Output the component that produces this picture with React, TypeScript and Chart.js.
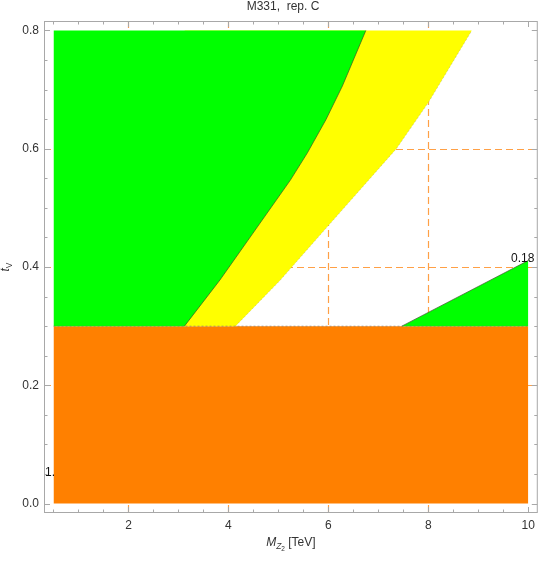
import React, { useEffect, useRef } from 'react';
import { Chart, registerables } from 'chart.js';
Chart.register(...registerables);

const TITLE = 'M331,  rep. C';
const xTickValues = [2, 4, 6, 8, 10];
const yTickValues = [0, 0.2, 0.4, 0.6, 0.8];
const gridX = [2, 4, 6, 8];
const gridY = [0.2, 0.4, 0.6];

// orange excluded band (top edge), filled down to 0
const orangeX = [0.5, 10];
const orangeY = [0.3, 0.3];
// green region: bounded below by this edge, above by 0.8
const greenEdgeX = [0.5, 3.12, 3.83, 5.24, 5.58, 5.95, 6.28, 6.75];
const greenEdgeY = [0.3, 0.3, 0.378, 0.547, 0.593, 0.649, 0.706, 0.8];
// yellow band outer edge, filled up to 0.8
const yellowEdgeX = [3.12, 4.14, 5.03, 6.0, 7.36, 8.0, 8.87];
const yellowEdgeY = [0.3, 0.3, 0.377, 0.47, 0.6, 0.678, 0.8];
// small green region lower right, filled down to 0.3
const triX = [7.47, 10];
const triY = [0.3, 0.411];

const contourText = ['0.18', '1.'];
const contourX = [9.89, 0.33];
const contourY = [0.414, 0.052];

const FONT = '"Liberation Sans", Arial, sans-serif';

const pts = (xs: number[], ys: number[]) => xs.map((v, i) => ({ x: v, y: ys[i] }));

const decor = {
  id: 'decor',
  beforeDatasetsDraw(chart: any) {
    const { ctx, chartArea: a, scales } = chart;
    const x = scales.x, y = scales.y;
    ctx.save();
    ctx.beginPath();
    ctx.rect(a.left, a.top, a.right - a.left, a.bottom - a.top);
    ctx.clip();
    ctx.strokeStyle = 'rgb(255,160,70)';
    ctx.lineWidth = 1.2;
    ctx.setLineDash([7, 4]);
    gridX.forEach((v) => {
      const px = Math.round(x.getPixelForValue(v)) + 0.5;
      ctx.beginPath(); ctx.moveTo(px, a.top); ctx.lineTo(px, a.bottom); ctx.stroke();
    });
    gridY.forEach((v) => {
      const py = Math.round(y.getPixelForValue(v)) + 0.5;
      ctx.beginPath(); ctx.moveTo(a.left, py); ctx.lineTo(a.right, py); ctx.stroke();
    });
    ctx.restore();
  },
  afterDatasetsDraw(chart: any) {
    const { ctx, chartArea: a, scales } = chart;
    const x = scales.x, y = scales.y;
    ctx.save();
    // contour labels
    ctx.fillStyle = '#111';
    ctx.font = `12px ${FONT}`;
    ctx.textBaseline = 'middle';
    contourText.forEach((t, i) => {
      ctx.textAlign = i === 0 ? 'center' : 'left';
      ctx.fillText(t, x.getPixelForValue(contourX[i]), y.getPixelForValue(contourY[i]));
    });
    // frame
    const L = a.left + 0.5, R = a.right - 0.5, T = a.top + 0.5, B = a.bottom - 0.5;
    ctx.strokeStyle = '#a8a8a8';
    ctx.lineWidth = 1;
    ctx.strokeRect(L, T, R - L, B - T);
    // ticks
    ctx.beginPath();
    for (let k = 1; k <= 20; k++) {
      const v = k * 0.5;
      const major = k % 4 === 0;
      const len = major ? 5.5 : 3;
      const px = Math.round(x.getPixelForValue(v)) + 0.5;
      ctx.moveTo(px, B); ctx.lineTo(px, B - len);
      ctx.moveTo(px, T); ctx.lineTo(px, T + len);
    }
    for (let k = 0; k <= 16; k++) {
      const v = k * 0.05;
      const major = k % 4 === 0;
      const len = major ? 5.5 : 3;
      const py = Math.round(y.getPixelForValue(v)) + 0.5;
      ctx.moveTo(L, py); ctx.lineTo(L + len, py);
      ctx.moveTo(R, py); ctx.lineTo(R - len, py);
    }
    ctx.stroke();

    // title
    ctx.fillStyle = '#333';
    ctx.textAlign = 'center';
    ctx.textBaseline = 'alphabetic';
    ctx.font = `12px ${FONT}`;
    ctx.fillText(TITLE, 283, 10);

    // x axis title: M_{Z_2} [TeV]
    const cx = (a.left + a.right) / 2;
    const base = 546;
    const parts = [
      { t: 'M', f: `italic 12px ${FONT}`, dy: 0 },
      { t: 'Z', f: `italic 8.5px ${FONT}`, dy: 3 },
      { t: '2', f: `6.5px ${FONT}`, dy: 5 },
      { t: ' [TeV]', f: `12px ${FONT}`, dy: 0 },
    ];
    let total = 0;
    parts.forEach((p) => { ctx.font = p.f; total += ctx.measureText(p.t).width; });
    let xx = cx - total / 2;
    ctx.textAlign = 'left';
    parts.forEach((p) => {
      ctx.font = p.f;
      ctx.fillText(p.t, xx, base + p.dy);
      xx += ctx.measureText(p.t).width;
    });

    // y axis title: t_V (rotated)
    ctx.translate(9, (a.top + a.bottom) / 2);
    ctx.rotate(-Math.PI / 2);
    const yparts = [
      { t: 't', f: `italic 12px ${FONT}`, dy: 0 },
      { t: 'V', f: `8.5px ${FONT}`, dy: 3 },
    ];
    let tw = 0;
    yparts.forEach((p) => { ctx.font = p.f; tw += ctx.measureText(p.t).width; });
    let yy = -tw / 2;
    yparts.forEach((p) => {
      ctx.font = p.f;
      ctx.fillText(p.t, yy, p.dy);
      yy += ctx.measureText(p.t).width;
    });
    ctx.restore();
  },
};

export default function App() {
  const ref = useRef<HTMLCanvasElement>(null);
  useEffect(() => {
    if (!ref.current) return;
    const edge = 'rgba(60,80,40,0.85)';
    const region = (label: string, data: any[], fillTo: number, color: string, order: number) => ({
      label,
      data,
      fill: { value: fillTo },
      backgroundColor: color,
      borderWidth: 0,
      pointRadius: 0,
      tension: 0,
      order,
    });
    const edgeLine = (label: string, data: any[], color: string, width: number, dash: number[]) => ({
      label,
      data,
      fill: false,
      borderColor: color,
      borderWidth: width,
      borderDash: dash,
      pointRadius: 0,
      tension: 0,
      order: -1,
    });
    const chart = new Chart(ref.current, {
      type: 'line',
      data: {
        datasets: [
          region('green', pts(greenEdgeX, greenEdgeY), 0.8, '#00ff00', 1),
          region('green2', pts(triX, triY), 0.3, '#00ff00', 1),
          region('yellow', pts(yellowEdgeX, yellowEdgeY), 0.8, '#ffff00', 2),
          region('orange', pts(orangeX, orangeY), 0, '#ff8000', 3),
          edgeLine('greenEdge', pts(greenEdgeX.slice(1), greenEdgeY.slice(1)), edge, 0.8, []),
          edgeLine('triEdge', pts(triX, triY), edge, 0.8, []),
          edgeLine('yellowEdge', pts(yellowEdgeX.slice(1), yellowEdgeY.slice(1)), 'rgba(150,150,100,0.45)', 0.8, [2, 2]),
          edgeLine('orangeEdge', pts(orangeX, orangeY), 'rgba(110,110,110,0.55)', 1, [2, 2]),
        ] as any,
      },
      options: {
        animation: false,
        responsive: false,
        devicePixelRatio: 1,
        layout: { padding: { top: 21, right: 2, left: 0, bottom: 0 } },
        plugins: { legend: { display: false }, title: { display: false }, tooltip: { enabled: false } },
        scales: {
          x: {
            type: 'linear',
            min: 0.31,
            max: 10.19,
            grid: { display: false, drawTicks: false },
            border: { display: false },
            afterBuildTicks: (s: any) => { s.ticks = xTickValues.map((v) => ({ value: v })); },
            afterFit: (s: any) => { s.height = 48; },
            ticks: {
              padding: 5,
              color: '#333',
              font: { family: FONT, size: 12 },
              maxRotation: 0,
              callback: (v: any) => String(v),
            },
          },
          y: {
            type: 'linear',
            min: -0.016,
            max: 0.816,
            grid: { display: false, drawTicks: false },
            border: { display: false },
            afterBuildTicks: (s: any) => { s.ticks = yTickValues.map((v) => ({ value: v })); },
            afterFit: (s: any) => { s.width = 44; },
            ticks: {
              padding: 5,
              color: '#333',
              font: { family: FONT, size: 12 },
              callback: (v: any) => Number(v).toFixed(1),
            },
          },
        },
      },
      plugins: [decor],
    } as any);
    return () => chart.destroy();
  }, []);
  return (
    <div style={{ position: 'absolute', left: 0, top: 0, width: 540, height: 561, background: '#fff' }}>
      <canvas ref={ref} width={540} height={561} />
    </div>
  );
}
